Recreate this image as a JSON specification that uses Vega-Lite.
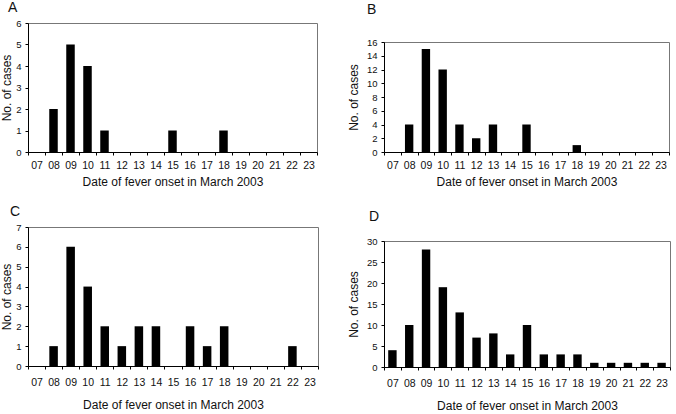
{
  "$schema": "https://vega.github.io/schema/vega-lite/v6.json",
  "padding": {"left": 0, "top": 0, "right": 0, "bottom": 0},
  "background": "white",
  "datasets": {
    "A": [{"day": "08", "cases": 2}, {"day": "09", "cases": 5}, {"day": "10", "cases": 4}, {"day": "11", "cases": 1}, {"day": "15", "cases": 1}, {"day": "18", "cases": 1}],
    "B": [{"day": "08", "cases": 4}, {"day": "09", "cases": 15}, {"day": "10", "cases": 12}, {"day": "11", "cases": 4}, {"day": "12", "cases": 2}, {"day": "13", "cases": 4}, {"day": "15", "cases": 4}, {"day": "18", "cases": 1}],
    "C": [{"day": "08", "cases": 1}, {"day": "09", "cases": 6}, {"day": "10", "cases": 4}, {"day": "11", "cases": 2}, {"day": "12", "cases": 1}, {"day": "13", "cases": 2}, {"day": "14", "cases": 2}, {"day": "16", "cases": 2}, {"day": "17", "cases": 1}, {"day": "18", "cases": 2}, {"day": "22", "cases": 1}],
    "D": [{"day": "07", "cases": 4}, {"day": "08", "cases": 10}, {"day": "09", "cases": 28}, {"day": "10", "cases": 19}, {"day": "11", "cases": 13}, {"day": "12", "cases": 7}, {"day": "13", "cases": 8}, {"day": "14", "cases": 3}, {"day": "15", "cases": 10}, {"day": "16", "cases": 3}, {"day": "17", "cases": 3}, {"day": "18", "cases": 3}, {"day": "19", "cases": 1}, {"day": "20", "cases": 1}, {"day": "21", "cases": 1}, {"day": "22", "cases": 1}, {"day": "23", "cases": 1}],
    "spacer": [{"s": 1}]
  },
  "spacing": 16,
  "vconcat": [
    {
      "spacing": 28,
      "hconcat": [
        {
          "width": 289, "height": 129,
          "title": {"text": "A", "anchor": "start", "frame": "group", "dx": -20, "offset": 3},
          "data": {"name": "A"},
          "mark": {"type": "bar", "color": "black", "width": {"band": 0.5}},
          "encoding": {
            "x": {"field": "day", "type": "ordinal", "scale": {"domain": ["07","08","09","10","11","12","13","14","15","16","17","18","19","20","21","22","23"], "paddingInner": 0, "paddingOuter": 0}, "axis": {"title": "Date of fever onset in March 2003", "labelAngle": 0, "tickBand": "extent", "labelPadding": 5, "titlePadding": 6}},
            "y": {"field": "cases", "type": "quantitative", "scale": {"domain": [0, 6]}, "axis": {"values": [0,1,2,3,4,5,6], "title": "No. of cases", "titlePadding": 2}}
          }
        },
        {
          "spacing": 8,
          "vconcat": [
            {
              "width": 285, "height": 5,
              "title": {"text": "B", "anchor": "start", "frame": "group", "dx": -17, "offset": 6},
              "view": {"stroke": null},
              "data": {"name": "spacer"},
              "mark": {"type": "rect", "opacity": 0},
              "encoding": {}
            },
            {
              "width": 285, "height": 110,
              "data": {"name": "B"},
              "mark": {"type": "bar", "color": "black", "width": {"band": 0.5}},
              "encoding": {
                "x": {"field": "day", "type": "ordinal", "scale": {"domain": ["07","08","09","10","11","12","13","14","15","16","17","18","19","20","21","22","23"], "paddingInner": 0, "paddingOuter": 0}, "axis": {"title": "Date of fever onset in March 2003", "labelAngle": 0, "tickBand": "extent", "labelPadding": 5, "titlePadding": 6}},
                "y": {"field": "cases", "type": "quantitative", "scale": {"domain": [0, 16]}, "axis": {"values": [0,2,4,6,8,10,12,14,16], "title": "No. of cases", "titlePadding": 6}}
              }
            }
          ]
        }
      ]
    },
    {
      "spacing": 27,
      "hconcat": [
        {
          "width": 290, "height": 139,
          "title": {"text": "C", "anchor": "start", "frame": "group", "dx": -18, "offset": 3},
          "data": {"name": "C"},
          "mark": {"type": "bar", "color": "black", "width": {"band": 0.5}},
          "encoding": {
            "x": {"field": "day", "type": "ordinal", "scale": {"domain": ["07","08","09","10","11","12","13","14","15","16","17","18","19","20","21","22","23"], "paddingInner": 0, "paddingOuter": 0}, "axis": {"title": "Date of fever onset in March 2003", "labelAngle": 0, "tickBand": "extent", "labelPadding": 8, "titlePadding": 12}},
            "y": {"field": "cases", "type": "quantitative", "scale": {"domain": [0, 7]}, "axis": {"values": [0,1,2,3,4,5,6,7], "title": "No. of cases", "titlePadding": 2}}
          }
        },
        {
          "spacing": 7,
          "vconcat": [
            {
              "width": 286, "height": 1,
              "title": {"text": "D", "anchor": "start", "frame": "group", "dx": -15, "offset": 3},
              "view": {"stroke": null},
              "data": {"name": "spacer"},
              "mark": {"type": "rect", "opacity": 0},
              "encoding": {}
            },
            {
              "width": 286, "height": 126,
              "data": {"name": "D"},
              "mark": {"type": "bar", "color": "black", "width": {"band": 0.5}},
              "encoding": {
                "x": {"field": "day", "type": "ordinal", "scale": {"domain": ["07","08","09","10","11","12","13","14","15","16","17","18","19","20","21","22","23"], "paddingInner": 0, "paddingOuter": 0}, "axis": {"title": "Date of fever onset in March 2003", "labelAngle": 0, "tickBand": "extent", "labelPadding": 8, "titlePadding": 12}},
                "y": {"field": "cases", "type": "quantitative", "scale": {"domain": [0, 30]}, "axis": {"values": [0,5,10,15,20,25,30], "title": "No. of cases", "titlePadding": 6}}
              }
            }
          ]
        }
      ]
    }
  ],
  "config": {
    "font": "Liberation Sans",
    "view": {"stroke": "#777777", "strokeWidth": 1},
    "axis": {
      "grid": false,
      "domainColor": "black",
      "tickColor": "black",
      "tickSize": 3,
      "labelFontSize": 9.5,
      "labelColor": "#111111",
      "titleFontSize": 12,
      "titleFontWeight": "normal",
      "titleColor": "#111111"
    },
    "axisX": {"labelFontSize": 10.5},
    "axisY": {"labelPadding": 4},
    "title": {"fontSize": 14, "fontWeight": "normal", "color": "#111111"}
  }
}
